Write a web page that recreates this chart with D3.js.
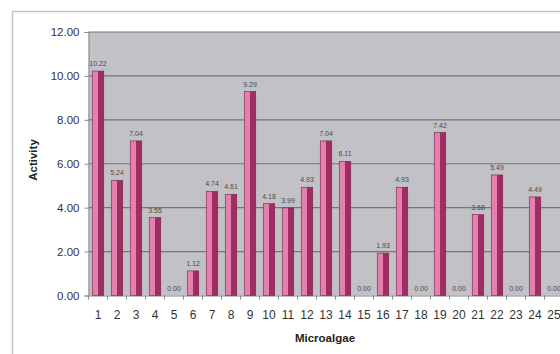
<!DOCTYPE html>
<html>
<head>
<meta charset="utf-8">
<script src="https://cdn.jsdelivr.net/npm/d3@7"></script>
<style>
  html, body { margin: 0; padding: 0; background: #fff; }
  svg { display: block; }
</style>
</head>
<body>
<svg id="chart" width="560" height="354"></svg>
<script>
// Microalgae strains 1..25 and their measured activity
const categories = ["1","2","3","4","5","6","7","8","9","10","11","12","13","14","15","16","17","18","19","20","21","22","23","24","25"];
const activity = [10.22, 5.24, 7.04, 3.55, 0.00, 1.12, 4.74, 4.61, 9.29, 4.18, 3.99, 4.93, 7.04, 6.11, 0.00, 1.93, 4.93, 0.00, 7.42, 0.00, 3.68, 5.49, 0.00, 4.49, 0.00];
const yTicks = [0, 2, 4, 6, 8, 10, 12];

const svg = d3.select("#chart");
const font = "'Liberation Sans', Arial, sans-serif";

// Outer chart frame (continues past the right edge)
svg.append("path")
  .attr("d", "M12.5,400 V11.5 H600")
  .attr("fill", "none")
  .attr("stroke", "#c4c4c4")
  .attr("stroke-width", 1.5);

const plot = { left: 88.5, top: 32, bottom: 295.5 };
const band = 19;

const x = d3.scaleBand()
  .domain(categories)
  .range([plot.left, plot.left + band * categories.length])
  .paddingInner(0).paddingOuter(0);

const y = d3.scaleLinear().domain([0, 12]).range([plot.bottom, plot.top]);

// Plot area background
svg.append("rect")
  .attr("x", plot.left).attr("y", plot.top)
  .attr("width", 600 - plot.left).attr("height", plot.bottom - plot.top)
  .attr("fill", "#c2c2c6");

// Horizontal gridlines
svg.append("g").selectAll("line")
  .data(yTicks.filter(d => d > 0))
  .join("line")
  .attr("x1", plot.left).attr("x2", 600)
  .attr("y1", d => y(d)).attr("y2", d => y(d))
  .attr("stroke", "#767676").attr("stroke-width", 1.1);

// Y axis
const yAxis = svg.append("g")
  .attr("transform", `translate(${plot.left},0)`)
  .call(d3.axisLeft(y).tickValues(yTicks).tickFormat(d3.format(".2f")).tickSize(4).tickPadding(5));
yAxis.select(".domain").attr("stroke", "#8a8a8a");
yAxis.selectAll(".tick line").attr("stroke", "#8a8a8a");
yAxis.selectAll("text")
  .attr("font-family", font).attr("font-size", 11.5).attr("fill", "#333");

// X axis
const xAxis = svg.append("g")
  .attr("transform", `translate(0,${plot.bottom})`)
  .call(d3.axisBottom(x).tickSize(0).tickPadding(15));
xAxis.select(".domain").attr("stroke", "#8a8a8a");
xAxis.selectAll("text")
  .attr("font-family", font).attr("font-size", 12).attr("fill", "#333");
// tick marks at the category boundaries
svg.append("g").selectAll("line")
  .data(d3.range(categories.length + 1))
  .join("line")
  .attr("x1", i => plot.left + i * band).attr("x2", i => plot.left + i * band)
  .attr("y1", plot.bottom).attr("y2", plot.bottom + 4)
  .attr("stroke", "#8a8a8a");

// Bars: light left half, dark right half
const barW = 11.5;
const bars = svg.append("g").selectAll("g")
  .data(categories.map((c, i) => ({ c, v: activity[i] })))
  .join("g")
  .attr("transform", d => `translate(${x(d.c) + x.bandwidth() / 2},0)`);

bars.filter(d => d.v > 0).append("rect")
  .attr("x", -barW / 2).attr("width", barW / 2)
  .attr("y", d => y(d.v)).attr("height", d => y(0) - y(d.v))
  .attr("fill", "#e57fae");
bars.filter(d => d.v > 0).append("rect")
  .attr("x", 0).attr("width", barW / 2)
  .attr("y", d => y(d.v)).attr("height", d => y(0) - y(d.v))
  .attr("fill", "#9e2d63");
bars.filter(d => d.v > 0).append("rect")
  .attr("x", -barW / 2).attr("width", barW)
  .attr("y", d => y(d.v)).attr("height", d => y(0) - y(d.v))
  .attr("fill", "none").attr("stroke", "#7a1f4a").attr("stroke-width", 0.6);

// Value labels
bars.append("text")
  .attr("x", 0)
  .attr("y", d => y(d.v) - 5)
  .attr("text-anchor", "middle")
  .attr("font-family", font).attr("font-size", 7)
  .attr("fill", "#4a4a4a")
  .text(d => d3.format(".2f")(d.v));

// Axis titles
svg.append("text")
  .attr("x", 325).attr("y", 342)
  .attr("text-anchor", "middle")
  .attr("font-family", font).attr("font-size", 11.5).attr("font-weight", "bold")
  .attr("fill", "#222")
  .text("Microalgae");

svg.append("text")
  .attr("transform", "translate(37,160) rotate(-90)")
  .attr("text-anchor", "middle")
  .attr("font-family", font).attr("font-size", 11.5).attr("font-weight", "bold")
  .attr("fill", "#222")
  .text("Activity");
</script>
</body>
</html>
